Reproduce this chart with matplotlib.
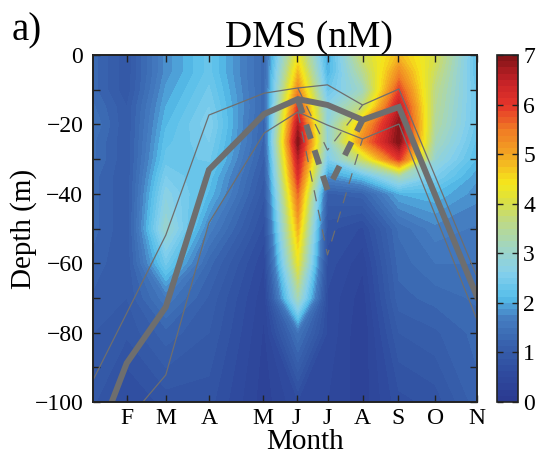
import matplotlib
matplotlib.use("Agg")
import matplotlib.pyplot as plt
import numpy as np
from matplotlib.colors import LinearSegmentedColormap
from matplotlib.ticker import MultipleLocator

plt.rcParams["font.family"] = ["Liberation Serif", "DejaVu Serif"]

# sampling days (x) and depths (y) of the DMS grid
sample_days = [20, 45, 74, 106, 147, 172, 194, 220, 247, 274, 305]
depths = [0, -5, -10, -15, -20, -25, -30, -35, -40, -50, -60, -70, -80, -100]

# DMS (nM), one row per depth, one column per sample day
dms = [
    [1.3, 0.9, 1.8, 2.3, 1.3, 4.3, 1.9, 3.9, 4.8, 4.0, 2.2],
    [1.3, 0.9, 1.8, 2.3, 1.3, 4.8, 2.0, 3.5, 5.3, 3.8, 2.2],
    [1.3, 0.9, 1.9, 2.4, 1.3, 5.3, 2.3, 3.1, 5.9, 3.6, 2.3],
    [1.4, 1.0, 2.0, 2.5, 1.3, 6.0, 2.7, 3.7, 6.5, 3.5, 2.3],
    [1.5, 1.0, 2.1, 2.6, 1.2, 6.6, 2.8, 4.9, 6.9, 3.4, 2.3],
    [1.4, 1.0, 2.2, 2.5, 1.2, 7.0, 2.8, 5.3, 7.0, 3.2, 2.2],
    [1.4, 1.0, 2.3, 2.4, 1.1, 6.5, 2.5, 3.9, 6.0, 2.9, 2.1],
    [1.3, 1.0, 2.5, 2.2, 1.0, 6.1, 1.8, 2.2, 3.2, 2.5, 1.9],
    [1.3, 1.0, 2.7, 2.1, 0.9, 5.6, 1.1, 1.2, 2.0, 2.1, 1.8],
    [1.3, 1.0, 3.0, 1.7, 0.7, 4.9, 0.8, 0.6, 1.4, 1.7, 1.6],
    [1.2, 1.0, 2.4, 1.3, 0.5, 4.2, 0.7, 0.4, 1.3, 1.5, 1.5],
    [1.1, 1.0, 1.6, 1.1, 0.4, 3.2, 0.6, 0.3, 1.2, 1.3, 1.4],
    [1.0, 0.9, 1.2, 1.0, 0.35, 1.5, 0.6, 0.25, 1.0, 1.1, 1.3],
    [0.9, 0.6, 0.8, 0.8, 0.3, 0.6, 0.5, 0.3, 0.7, 0.8, 1.2],
]

# mixed layer depth (thick) with upper / lower bounds (thin)
mld_days = [20, 45, 74, 106, 147, 172, 194, 220, 247, 305]
mld = [-114, -88.8, -72.6, -33.1, -17.0, -12.7, -14.4, -18.7, -15.0, -69.7]
mld_upper = [-93.7, -74.4, -51.9, -17.3, -11.0, -9.5, -8.6, -14.4, -9.8, -64.0]
mld_lower = [-130, -105.5, -92.2, -48.4, -22.5, -16.4, -20.2, -24.2, -19.9, -76.4]

# alternative July estimate (dashed)
alt_days = [172, 194, 220]
alt_mld = [-12.7, -38.9, -18.7]
alt_upper = [-9.5, -27.4, -14.4]
alt_lower = [-16.4, -57.6, -24.2]

tick_days = [45, 74, 106, 146, 171, 194, 220, 246, 274, 305]
tick_labels = ["F", "M", "A", "M", "J", "J", "A", "S", "O", "N"]

cmap_stops = [0, 0.6, 1.2, 1.7, 2.1, 2.6, 3.1, 3.6, 4.1, 4.4, 5.0, 5.5, 6.0, 6.5, 7.0]
cmap_colors = ["#2b3990", "#2f4c9f", "#3863ae", "#467fc2", "#55bde9", "#85d0ec",
               "#9fd5c4", "#bcd98a", "#dde13d", "#f5e81b", "#f4a623", "#f07a24",
               "#e5352a", "#c32127", "#7f1416"]
cmap = LinearSegmentedColormap.from_list(
    "dms", list(zip(np.array(cmap_stops) / 7.0, cmap_colors)))

fig = plt.figure(figsize=(5.44, 4.55), dpi=100)
ax = fig.add_axes([0.171, 0.1165, 0.706, 0.7626])
cax = fig.add_axes([0.914, 0.1165, 0.0386, 0.7626])

levels = np.linspace(0, 7, 57)
cs = ax.contourf(sample_days, depths, np.array(dms), levels=levels, cmap=cmap)

line_color = "#6e6e6e"
ax.plot(mld_days, mld, color=line_color, linewidth=4.3, solid_joinstyle="miter")
ax.plot(mld_days, mld_upper, color=line_color, linewidth=0.9)
ax.plot(mld_days, mld_lower, color=line_color, linewidth=0.9)
ax.plot(alt_days, alt_mld, color=line_color, linewidth=4.3, linestyle=(0, (2.5, 2.0)))
ax.plot(alt_days, alt_upper, color=line_color, linewidth=0.9, linestyle=(0, (9, 7)))
ax.plot(alt_days, alt_lower, color=line_color, linewidth=0.9, linestyle=(0, (9, 7)))

ax.set_xlim(20, 305)
ax.set_ylim(-100, 0)
ax.set_xticks(tick_days)
ax.set_xticklabels(tick_labels)
ax.set_yticks(range(-100, 1, 20))
ax.yaxis.set_minor_locator(MultipleLocator(10))
ax.tick_params(which="both", direction="in", top=True, right=True, length=5,
               width=1, labelsize=17, color="#222222")
ax.tick_params(axis="y", pad=7)
ax.tick_params(axis="x", pad=4)
for sp in ax.spines.values():
    sp.set_linewidth(1.4)
    sp.set_color("#222222")

ax.set_xlabel("Month", fontsize=21, labelpad=0)
ax.xaxis.set_label_coords(0.552, -0.078)
ax.set_ylabel("Depth (m)", fontsize=21)
ax.yaxis.set_label_coords(-0.145, 0.5)

cb = fig.colorbar(cs, cax=cax, ticks=range(8))
cb.outline.set_linewidth(1.2)
cb.outline.set_edgecolor("#222222")
cax.tick_params(direction="in", left=True, right=True, length=4, width=1,
                labelsize=17, color="#222222")

fig.text(309 / 544, 1 - 47 / 455, "DMS (nM)", fontsize=27, ha="center", va="baseline")
fig.text(12 / 544, 1 - 40 / 455, "a)", fontsize=28, ha="left", va="baseline")

fig.savefig("out.png", dpi=100)
